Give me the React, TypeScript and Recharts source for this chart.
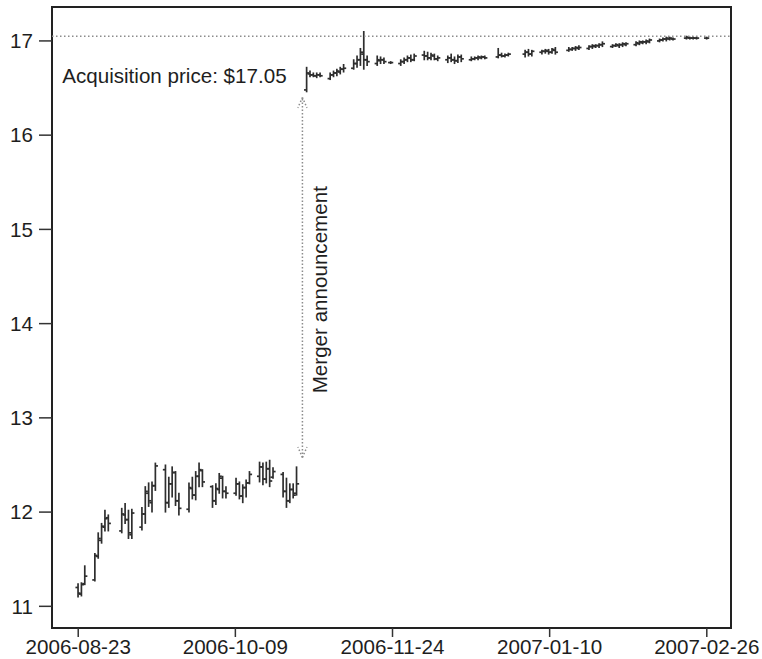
import { ComposedChart, Bar, XAxis, YAxis, ReferenceLine, ReferenceArea, ReferenceDot } from "recharts";

const FONT = '"Liberation Sans", Arial, Helvetica, sans-serif';
const FONT_SIZE = 20.6;

// trading days, grouped by week
const dates = [
  "2006-08-23", "2006-08-24", "2006-08-25",
  "2006-08-28", "2006-08-29", "2006-08-30", "2006-08-31", "2006-09-01",
  "2006-09-05", "2006-09-06", "2006-09-07", "2006-09-08",
  "2006-09-11", "2006-09-12", "2006-09-13", "2006-09-14", "2006-09-15",
  "2006-09-18", "2006-09-19", "2006-09-20", "2006-09-21", "2006-09-22",
  "2006-09-25", "2006-09-26", "2006-09-27", "2006-09-28", "2006-09-29",
  "2006-10-02", "2006-10-03", "2006-10-04", "2006-10-05", "2006-10-06",
  "2006-10-09", "2006-10-10", "2006-10-11", "2006-10-12", "2006-10-13",
  "2006-10-16", "2006-10-17", "2006-10-18", "2006-10-19", "2006-10-20",
  "2006-10-23", "2006-10-24", "2006-10-25", "2006-10-26", "2006-10-27",
  "2006-10-30", "2006-10-31", "2006-11-01", "2006-11-02", "2006-11-03",
  "2006-11-06", "2006-11-07", "2006-11-08", "2006-11-09", "2006-11-10",
  "2006-11-13", "2006-11-14", "2006-11-15", "2006-11-16", "2006-11-17",
  "2006-11-20", "2006-11-21", "2006-11-22", "2006-11-24",
  "2006-11-27", "2006-11-28", "2006-11-29", "2006-11-30", "2006-12-01",
  "2006-12-04", "2006-12-05", "2006-12-06", "2006-12-07", "2006-12-08",
  "2006-12-11", "2006-12-12", "2006-12-13", "2006-12-14", "2006-12-15",
  "2006-12-18", "2006-12-19", "2006-12-20", "2006-12-21", "2006-12-22",
  "2006-12-26", "2006-12-27", "2006-12-28", "2006-12-29",
  "2007-01-03", "2007-01-04", "2007-01-05",
  "2007-01-08", "2007-01-09", "2007-01-10", "2007-01-11", "2007-01-12",
  "2007-01-16", "2007-01-17", "2007-01-18", "2007-01-19",
  "2007-01-22", "2007-01-23", "2007-01-24", "2007-01-25", "2007-01-26",
  "2007-01-29", "2007-01-30", "2007-01-31", "2007-02-01", "2007-02-02",
  "2007-02-05", "2007-02-06", "2007-02-07", "2007-02-08", "2007-02-09",
  "2007-02-12", "2007-02-13", "2007-02-14", "2007-02-15", "2007-02-16",
  "2007-02-20", "2007-02-21", "2007-02-22", "2007-02-23",
  "2007-02-26",
];

const opens = [
  11.20, 11.13, 11.24,
  11.28, 11.53, 11.70, 11.84, 11.94,
  11.80, 11.97, 11.92, 11.76,
  11.84, 11.98, 12.20, 12.10, 12.28,
  12.45, 12.10, 12.30, 12.42, 12.12,
  12.03, 12.25, 12.18, 12.38, 12.44,
  12.27, 12.12, 12.24, 12.36, 12.22,
  12.20, 12.30, 12.17, 12.26, 12.31,
  12.38, 12.48, 12.35, 12.46, 12.37,
  12.40, 12.22, 12.12, 12.24, 12.20,
  16.48, 16.65, 16.64, 16.63, 16.64,
  16.60, 16.64, 16.66, 16.67, 16.70,
  16.71, 16.76, 16.80, 16.86, 16.80,
  16.76, 16.79, 16.80, 16.77,
  16.76, 16.78, 16.80, 16.82, 16.80,
  16.85, 16.84, 16.82, 16.84, 16.81,
  16.80, 16.82, 16.80, 16.79, 16.83,
  16.80, 16.81, 16.82, 16.82, 16.83,
  16.83, 16.85, 16.84, 16.85,
  16.86, 16.88, 16.86,
  16.88, 16.89, 16.89, 16.88, 16.90,
  16.90, 16.91, 16.92, 16.92,
  16.92, 16.94, 16.94, 16.95, 16.96,
  16.94, 16.95, 16.95, 16.96, 16.96,
  16.96, 16.97, 16.98, 16.99, 16.99,
  17.00, 17.01, 17.02, 17.02, 17.02,
  17.03, 17.03, 17.03, 17.03,
  17.03,
];

const highs = [
  11.24, 11.25, 11.43,
  11.56, 11.78, 11.88, 12.02, 11.97,
  12.04, 12.09, 12.02, 12.03,
  12.05, 12.27, 12.31, 12.32, 12.52,
  12.50, 12.37, 12.48, 12.43, 12.20,
  12.31, 12.37, 12.43, 12.52, 12.45,
  12.28, 12.30, 12.41, 12.38, 12.27,
  12.36, 12.32, 12.29, 12.34, 12.43,
  12.53, 12.52, 12.53, 12.55, 12.47,
  12.42, 12.36, 12.30, 12.30, 12.48,
  16.72, 16.68, 16.66, 16.66, 16.66,
  16.66, 16.68, 16.70, 16.72, 16.75,
  16.80, 16.84, 16.92, 17.10, 16.84,
  16.84, 16.83, 16.82, 16.78,
  16.80, 16.82, 16.84, 16.85, 16.86,
  16.89, 16.88, 16.87, 16.86, 16.84,
  16.84, 16.86, 16.83, 16.85, 16.85,
  16.83, 16.83, 16.84, 16.84, 16.84,
  16.92, 16.87, 16.86, 16.87,
  16.90, 16.91, 16.90,
  16.90, 16.91, 16.91, 16.92, 16.93,
  16.93, 16.93, 16.94, 16.95,
  16.95, 16.96, 16.96, 16.97, 16.99,
  16.96, 16.97, 16.97, 16.98, 16.98,
  16.99, 17.00, 17.00, 17.01, 17.02,
  17.02, 17.03, 17.04, 17.04, 17.03,
  17.05, 17.04, 17.04, 17.04,
  17.04,
];

const lows = [
  11.10, 11.11, 11.23,
  11.27, 11.51, 11.67, 11.80, 11.80,
  11.78, 11.88, 11.72, 11.72,
  11.81, 11.88, 12.06, 12.00, 12.23,
  12.00, 12.05, 12.16, 12.07, 11.97,
  12.00, 12.14, 12.13, 12.27, 12.27,
  12.05, 12.08, 12.20, 12.15, 12.15,
  12.18, 12.14, 12.10, 12.16, 12.30,
  12.32, 12.29, 12.31, 12.27, 12.36,
  12.16, 12.05, 12.10, 12.15, 12.18,
  16.46, 16.62, 16.62, 16.61, 16.62,
  16.59, 16.62, 16.63, 16.65, 16.67,
  16.70, 16.72, 16.74, 16.70, 16.74,
  16.74, 16.76, 16.76, 16.76,
  16.74, 16.76, 16.78, 16.78, 16.79,
  16.80, 16.80, 16.80, 16.80, 16.79,
  16.77, 16.78, 16.76, 16.77, 16.78,
  16.79, 16.80, 16.80, 16.81, 16.81,
  16.82, 16.83, 16.83, 16.84,
  16.83, 16.84, 16.84,
  16.86, 16.87, 16.86, 16.87, 16.86,
  16.89, 16.90, 16.90, 16.91,
  16.91, 16.92, 16.93, 16.93, 16.94,
  16.93, 16.94, 16.93, 16.94, 16.95,
  16.95, 16.96, 16.97, 16.97, 16.98,
  16.99, 17.00, 17.00, 17.01, 17.01,
  17.02, 17.02, 17.02, 17.02,
  17.02,
];

const closes = [
  11.14, 11.23, 11.32,
  11.54, 11.72, 11.85, 11.93, 11.88,
  11.98, 11.92, 11.78, 11.99,
  11.98, 12.22, 12.12, 12.28, 12.49,
  12.10, 12.30, 12.42, 12.12, 12.04,
  12.26, 12.18, 12.38, 12.45, 12.32,
  12.12, 12.25, 12.38, 12.22, 12.20,
  12.30, 12.17, 12.26, 12.31, 12.40,
  12.48, 12.35, 12.46, 12.33, 12.43,
  12.22, 12.12, 12.24, 12.18, 12.30,
  16.66, 16.64, 16.63, 16.64, 16.63,
  16.64, 16.66, 16.68, 16.70, 16.71,
  16.76, 16.80, 16.88, 16.80, 16.78,
  16.80, 16.80, 16.78, 16.77,
  16.78, 16.80, 16.82, 16.80, 16.84,
  16.84, 16.82, 16.85, 16.81, 16.82,
  16.82, 16.80, 16.79, 16.83, 16.81,
  16.81, 16.82, 16.83, 16.83, 16.82,
  16.85, 16.84, 16.85, 16.86,
  16.88, 16.86, 16.89,
  16.89, 16.90, 16.88, 16.91, 16.88,
  16.91, 16.92, 16.93, 16.93,
  16.94, 16.95, 16.95, 16.96, 16.97,
  16.95, 16.96, 16.96, 16.97, 16.97,
  16.98, 16.99, 16.99, 17.00, 17.01,
  17.01, 17.02, 17.03, 17.03, 17.02,
  17.04, 17.03, 17.03, 17.03,
  17.03,
];

// x ticks: five evenly spaced dates from first to last day
const xTicks = [0, 46.75, 93.5, 140.25, 187];
const xTickLabels = ["2006-08-23", "2006-10-09", "2006-11-24", "2007-01-10", "2007-02-26"];
const yTicks = [11, 12, 13, 14, 15, 16, 17];

const xDomain: [number, number] = [-7.8, 194.2];
const yDomain: [number, number] = [10.77, 17.36];

const acquisitionPrice = 17.05;
const acquisitionLabel = "Acquisition price: $17.05";
const mergerLabel = "Merger announcement";

const DAY = 86400000;
const dayOf = (s: string) => (Date.parse(s) - Date.parse(dates[0])) / DAY;

const data = dates.map((d, i) => ({
  t: dayOf(d),
  range: [lows[i], highs[i]],
  open: opens[i],
  close: closes[i],
}));

// arrow between the two price regimes
const arrowX = 66.7;
const arrowLow = 12.58;
const arrowHigh = 16.4;
const headDx = 1.35;
const headDy = 0.11;

const OhlcBar = (props: any) => {
  const { x, y, width, height, payload } = props;
  if (!payload) return null;
  const [lo, hi] = payload.range;
  const top = Math.min(y, y + height);
  const bottom = Math.max(y, y + height);
  const cx = x + width / 2;
  const span = hi - lo || 1;
  const yOpen = top + ((hi - payload.open) / span) * (bottom - top);
  const yClose = top + ((hi - payload.close) / span) * (bottom - top);
  return (
    <g stroke="#2e2e2e" strokeWidth={1.7}>
      <line x1={cx} x2={cx} y1={top - 0.5} y2={bottom + 0.5} />
      <line x1={cx - 2.6} x2={cx} y1={yOpen} y2={yOpen} />
      <line x1={cx} x2={cx + 2.6} y1={yClose} y2={yClose} />
    </g>
  );
};

const arrowStyle = { stroke: "#8c8c8c", strokeWidth: 1.5, strokeDasharray: "1.5 2" };

export default function App() {
  return (
    <div style={{ position: "absolute", left: 0, top: 0, background: "#fff" }}>
      <ComposedChart
        width={762}
        height={659}
        data={data}
        margin={{ top: 7, right: 31, bottom: 0, left: 0 }}
      >
        <XAxis
          type="number"
          dataKey="t"
          domain={xDomain}
          allowDataOverflow
          ticks={xTicks}
          tickFormatter={(v: number) => xTickLabels[xTicks.indexOf(v)] ?? ""}
          interval={0}
          height={31}
          axisLine={false}
          tickSize={9}
          tickMargin={2}
          tickLine={{ stroke: "#333", strokeWidth: 1.5 }}
          tick={{ fill: "#1e1e1e", fontSize: FONT_SIZE, fontFamily: FONT }}
        />
        <YAxis
          type="number"
          domain={yDomain}
          allowDataOverflow
          ticks={yTicks}
          interval={0}
          width={52}
          axisLine={false}
          tickSize={13}
          tickMargin={6}
          tickLine={{ stroke: "#333", strokeWidth: 1.5 }}
          tick={{ fill: "#1e1e1e", fontSize: FONT_SIZE, fontFamily: FONT }}
        />
        <ReferenceLine
          y={acquisitionPrice}
          stroke="#8c8c8c"
          strokeWidth={1.5}
          strokeDasharray="1.5 2.5"
        />
        <ReferenceLine segment={[{ x: arrowX, y: arrowLow }, { x: arrowX, y: arrowHigh }]} {...arrowStyle} />
        <ReferenceLine segment={[{ x: arrowX, y: arrowHigh }, { x: arrowX - headDx, y: arrowHigh - headDy }]} {...arrowStyle} />
        <ReferenceLine segment={[{ x: arrowX, y: arrowHigh }, { x: arrowX + headDx, y: arrowHigh - headDy }]} {...arrowStyle} />
        <ReferenceLine segment={[{ x: arrowX, y: arrowLow }, { x: arrowX - headDx, y: arrowLow + headDy }]} {...arrowStyle} />
        <ReferenceLine segment={[{ x: arrowX, y: arrowLow }, { x: arrowX + headDx, y: arrowLow + headDy }]} {...arrowStyle} />
        <Bar dataKey="range" barSize={6} shape={OhlcBar} isAnimationActive={false} />
        <ReferenceDot
          x={-4.76}
          y={16.63}
          r={0}
          shape={(p: any) => (
            <text
              x={p.cx}
              y={p.cy}
              dominantBaseline="central"
              textAnchor="start"
              fontSize={FONT_SIZE}
              fontFamily={FONT}
              fill="#1e1e1e"
            >
              {acquisitionLabel}
            </text>
          )}
        />
        <ReferenceDot
          x={71.7}
          y={14.36}
          r={0}
          shape={(p: any) => (
            <text
              x={p.cx}
              y={p.cy}
              transform={`rotate(-90 ${p.cx} ${p.cy})`}
              dominantBaseline="central"
              textAnchor="middle"
              fontSize={FONT_SIZE}
              fontFamily={FONT}
              fill="#1e1e1e"
            >
              {mergerLabel}
            </text>
          )}
        />
        <ReferenceArea
          x1={xDomain[0]}
          x2={xDomain[1]}
          y1={yDomain[0]}
          y2={yDomain[1]}
          fill="none"
          stroke="#222"
          strokeWidth={2}
          ifOverflow="visible"
        />
      </ComposedChart>
    </div>
  );
}
